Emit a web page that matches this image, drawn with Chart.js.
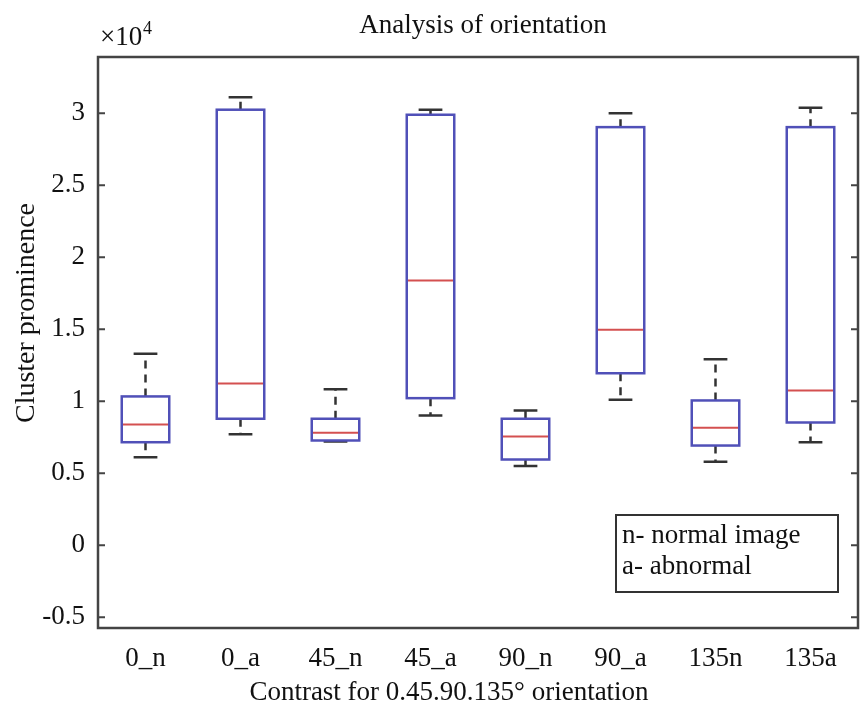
<!DOCTYPE html>
<html>
<head>
<meta charset="utf-8">
<script src="https://cdn.jsdelivr.net/npm/chart.js@4.4.1/dist/chart.umd.min.js"></script>
<style>
  html, body { margin: 0; padding: 0; background: #fff; }
  #wrap { width: 862px; height: 706px; }
</style>
</head>
<body>
<div id="wrap"><canvas id="boxChart" width="862" height="706"></canvas></div>
<script>
// values in units of 10^4
const categories = ['0_n', '0_a', '45_n', '45_a', '90_n', '90_a', '135n', '135a'];
const whiskerLow  = [0.61, 0.77, 0.72, 0.90, 0.55, 1.01, 0.58, 0.715];
const q1          = [0.715, 0.878, 0.727, 1.021, 0.595, 1.194, 0.692, 0.852];
const medians     = [0.838, 1.123, 0.78, 1.838, 0.755, 1.496, 0.815, 1.074];
const q3          = [1.033, 3.024, 0.878, 2.989, 0.878, 2.903, 1.005, 2.903];
const whiskerHigh = [1.329, 3.111, 1.083, 3.024, 0.935, 3.0, 1.292, 3.037];
const yTicks = [-0.5, 0, 0.5, 1, 1.5, 2, 2.5, 3];
const legendLines = ['n- normal image', 'a- abnormal'];

const FONT = "'Liberation Serif', 'Times New Roman', serif";
const BOX_BLUE = '#5050b8';
const MED_RED = '#d45050';

// whiskers, caps, medians, frame and extra texts
const boxExtras = {
    id: 'boxExtras',
    afterDatasetsDraw(chart) {
        const ctx = chart.ctx;
        const y = chart.scales.y;
        const area = chart.chartArea;
        const bars = chart.getDatasetMeta(0).data;
        ctx.save();
        bars.forEach((bar, i) => {
            const cx = bar.x;
            const half = bar.width / 2;
            const capHalf = bar.width / 4;
            // dashed whiskers
            ctx.strokeStyle = '#333';
            ctx.lineWidth = 2.5;
            ctx.setLineDash([8, 6]);
            ctx.beginPath();
            ctx.moveTo(cx, y.getPixelForValue(q3[i]));
            ctx.lineTo(cx, y.getPixelForValue(whiskerHigh[i]));
            ctx.moveTo(cx, y.getPixelForValue(q1[i]));
            ctx.lineTo(cx, y.getPixelForValue(whiskerLow[i]));
            ctx.stroke();
            ctx.setLineDash([]);
            // caps
            ctx.beginPath();
            [whiskerHigh[i], whiskerLow[i]].forEach(v => {
                const py = y.getPixelForValue(v);
                ctx.moveTo(cx - capHalf, py);
                ctx.lineTo(cx + capHalf, py);
            });
            ctx.stroke();
            // median
            ctx.strokeStyle = MED_RED;
            ctx.lineWidth = 2;
            const my = y.getPixelForValue(medians[i]);
            ctx.beginPath();
            ctx.moveTo(cx - half + 1, my);
            ctx.lineTo(cx + half - 1, my);
            ctx.stroke();
        });
        // box outlines on top
        bars.forEach((bar, i) => {
            ctx.strokeStyle = BOX_BLUE;
            ctx.lineWidth = 2.5;
            const top = y.getPixelForValue(q3[i]);
            const bot = y.getPixelForValue(q1[i]);
            ctx.strokeRect(bar.x - bar.width / 2, top, bar.width, bot - top);
        });

        // frame
        ctx.strokeStyle = '#444';
        ctx.lineWidth = 2.5;
        ctx.strokeRect(area.left, area.top, area.right - area.left, area.bottom - area.top);
        // inward ticks left and right
        ctx.lineWidth = 2;
        ctx.beginPath();
        yTicks.forEach(v => {
            const py = y.getPixelForValue(v);
            ctx.moveTo(area.left, py);
            ctx.lineTo(area.left + 7, py);
            ctx.moveTo(area.right, py);
            ctx.lineTo(area.right - 7, py);
        });
        ctx.stroke();

        ctx.fillStyle = '#111';
        // title
        ctx.font = '27px ' + FONT;
        ctx.textAlign = 'center';
        ctx.textBaseline = 'alphabetic';
        ctx.fillText('Analysis of orientation', 483, 33);
        // x label
        ctx.fillText('Contrast for 0.45.90.135\u00b0 orientation', 449, 700);
        // y label
        ctx.save();
        ctx.translate(34, 313);
        ctx.rotate(-Math.PI / 2);
        ctx.font = '28px ' + FONT;
        ctx.fillText('Cluster prominence', 0, 0);
        ctx.restore();
        // exponent
        ctx.textAlign = 'left';
        ctx.fillText('\u00d710', 100, 45);
        ctx.font = '18px ' + FONT;
        ctx.fillText('4', 143, 34);

        // legend box
        ctx.strokeStyle = '#333';
        ctx.lineWidth = 2;
        ctx.strokeRect(616, 515, 222, 77);
        ctx.font = '27px ' + FONT;
        legendLines.forEach((t, k) => ctx.fillText(t, 622, 543 + k * 31));
        ctx.restore();
    }
};

new Chart(document.getElementById('boxChart').getContext('2d'), {
    type: 'bar',
    data: {
        labels: categories,
        datasets: [{
            data: categories.map((_, i) => [q1[i], q3[i]]),
            backgroundColor: 'rgba(255,255,255,0)',
            borderColor: BOX_BLUE,
            borderWidth: 0,
            borderSkipped: false,
            barPercentage: 0.5,
            categoryPercentage: 1
        }]
    },
    options: {
        responsive: false,
        animation: false,
        layout: { padding: { top: 57, right: 4, bottom: 0, left: 0 } },
        plugins: { legend: { display: false }, title: { display: false }, tooltip: { enabled: false } },
        scales: {
            x: {
                offset: true,
                grid: { display: false, drawTicks: false },
                border: { display: false },
                ticks: { color: '#111', font: { family: FONT, size: 27 }, padding: 15, maxRotation: 0 },
                afterFit: s => { s.height = 78; }
            },
            y: {
                min: -0.575,
                max: 3.39,
                grid: { display: false, drawTicks: false },
                border: { display: false },
                afterBuildTicks: s => { s.ticks = yTicks.map(v => ({ value: v })); },
                ticks: {
                    color: '#111',
                    font: { family: FONT, size: 27 },
                    padding: 13,
                    callback: v => String(v)
                },
                afterFit: s => { s.width = 98; }
            }
        }
    },
    plugins: [boxExtras]
});
</script>
</body>
</html>
